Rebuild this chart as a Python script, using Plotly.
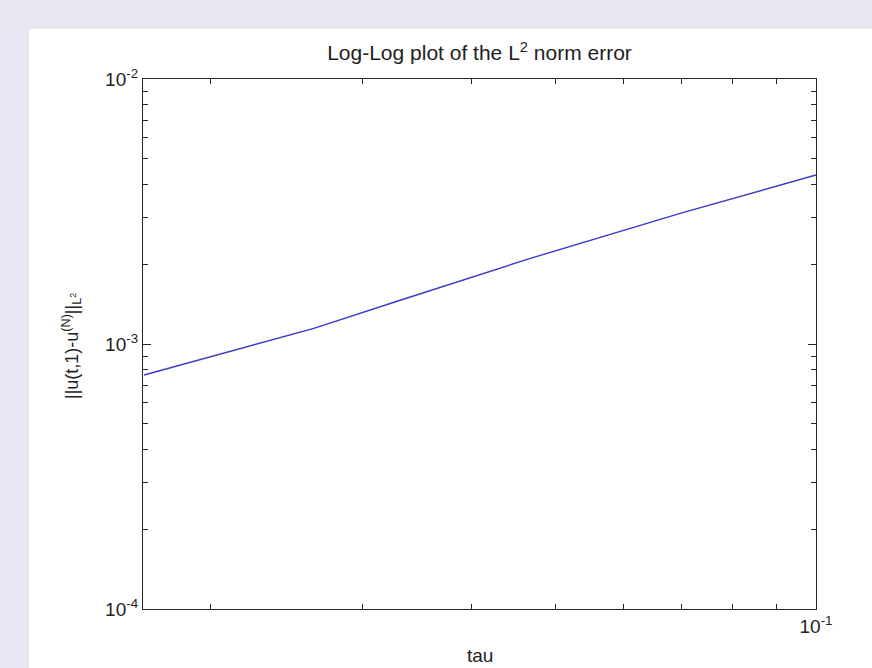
import plotly.graph_objects as go

# Data (time step tau vs L2 error)
tau = [0.01678, 0.02634, 0.0332, 0.04683, 0.06971, 0.1]
err = [7.64e-4, 1.146e-3, 1.466e-3, 2.105e-3, 3.113e-3, 4.342e-3]

y_major = [1e-4, 1e-3, 1e-2]
y_major_text = ["10<sup>-4</sup>", "10<sup>-3</sup>", "10<sup>-2</sup>"]
y_minor = [k * 1e-4 for k in range(2, 10)] + [k * 1e-3 for k in range(2, 10)]
x_major = [0.1]
x_major_text = ["10<sup>-1</sup>"]
x_minor = [0.02, 0.03, 0.04, 0.05, 0.06, 0.07, 0.08, 0.09]

FONT = "Liberation Sans, Arial, sans-serif"
W, H = 872, 668
L, R, T, B = 143, 816, 79, 609
pw, ph = R - L, B - T

def px(x):
    return (x - L) / pw

def py(y):
    return (B - y) / ph

fig = go.Figure()
fig.add_trace(go.Scatter(x=tau, y=err, mode="lines",
                         line=dict(color="#3a3ac6", width=1.4),
                         showlegend=False, hoverinfo="skip"))

axis_common = dict(type="log", showline=True, linecolor="#262626", linewidth=1.3,
                   mirror="allticks", ticks="inside", tickcolor="#262626",
                   tickwidth=1.2, showgrid=False, zeroline=False,
                   tickfont=dict(family=FONT, size=19, color="#222"))

fig.update_xaxes(**axis_common, range=[-1.7765, -1.0],
                 tickmode="array", tickvals=x_major, ticktext=x_major_text,
                 ticklen=5,
                 minor=dict(tickmode="array", tickvals=x_minor, ticks="inside",
                            ticklen=5, tickcolor="#262626", tickwidth=1.2, showgrid=False))
fig.update_yaxes(**axis_common, range=[-4, -2],
                 tickmode="array", tickvals=y_major, ticktext=y_major_text,
                 ticklen=8,
                 minor=dict(tickmode="array", tickvals=y_minor, ticks="inside",
                            ticklen=5, tickcolor="#262626", tickwidth=1.2, showgrid=False))

fig.add_shape(type="rect", xref="paper", yref="paper",
              x0=px(29), x1=px(W + 5), y0=py(H + 5), y1=py(29),
              fillcolor="white", line=dict(width=0), layer="below")

fig.update_layout(
    width=W, height=H,
    margin=dict(l=L, r=W - R, t=T, b=H - B),
    paper_bgcolor="#e7e7f1", plot_bgcolor="white",
    title=dict(text="Log-Log plot of the L<sup>2</sup> norm error",
               x=px((L + R) / 2), xref="paper", xanchor="center",
               y=1 - 53 / H, yref="container", yanchor="middle",
               font=dict(family=FONT, size=21, color="#222")),
    annotations=[
        dict(text="tau", xref="paper", yref="paper", x=0.5, y=py(655),
             xanchor="center", yanchor="middle", showarrow=False,
             font=dict(family=FONT, size=19, color="#222")),
        dict(text="||u(t,1)-u<sup>(N)</sup>||<sub>L<sup>2</sup></sub>",
             xref="paper", yref="paper", x=px(71), y=py(346),
             xanchor="center", yanchor="middle", showarrow=False, textangle=-90,
             font=dict(family=FONT, size=18, color="#222")),
    ],
)

fig.write_html("out.html",
               config={"displayModeBar": False},
               post_script="document.body.style.margin='0';"
                           "document.body.style.overflow='hidden';"
                           "document.body.style.background='#e7e7f1';")
